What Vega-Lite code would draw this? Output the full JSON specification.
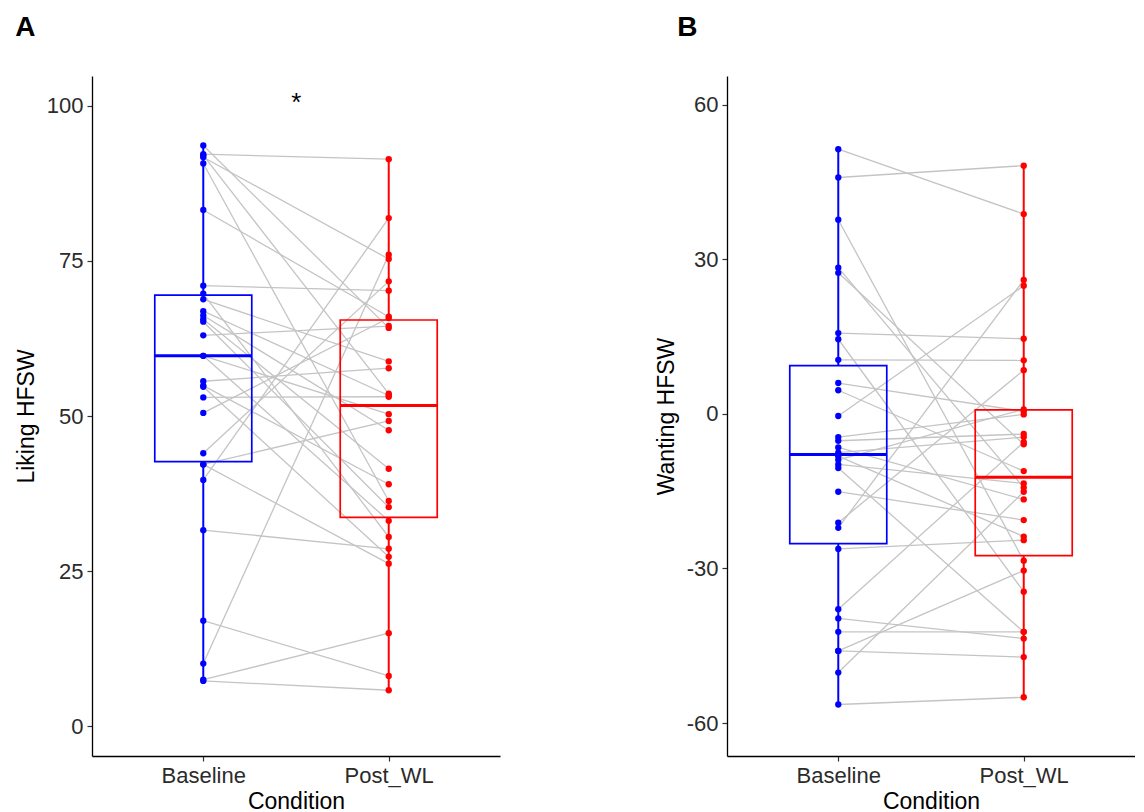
{
  "$schema": "https://vega.github.io/schema/vega-lite/v6.json",
  "padding": {"left": 15, "top": 14, "right": 0, "bottom": 0},
  "background": "white",
  "config": {
    "font": "Liberation Sans",
    "view": {"stroke": null},
    "axis": {"labelFontSize": 22, "labelColor": "#2b2b2b", "titleFontSize": 23, "titleFontWeight": "normal", "titleColor": "#000000", "domainColor": "#000000", "domainWidth": 1.3, "tickColor": "#333333", "tickSize": 5, "tickWidth": 1.2, "grid": false, "labelPadding": 4, "labelFont": "Liberation Sans", "titleFont": "Liberation Sans"},
    "axisX": {"titlePadding": 4, "labelAngle": 0},
    "axisY": {"titlePadding": 8, "labelExpr": "toString(datum.value)"}
  },
  "datasets": {
    "liking": [
      {"id": 1, "Condition": "Baseline", "value": 93.6}, {"id": 1, "Condition": "Post_WL", "value": 64.2},
      {"id": 2, "Condition": "Baseline", "value": 92.2}, {"id": 2, "Condition": "Post_WL", "value": 91.4},
      {"id": 3, "Condition": "Baseline", "value": 92.0}, {"id": 3, "Condition": "Post_WL", "value": 53.6},
      {"id": 4, "Condition": "Baseline", "value": 91.7}, {"id": 4, "Condition": "Post_WL", "value": 75.3},
      {"id": 5, "Condition": "Baseline", "value": 90.7}, {"id": 5, "Condition": "Post_WL", "value": 36.3},
      {"id": 6, "Condition": "Baseline", "value": 83.2}, {"id": 6, "Condition": "Post_WL", "value": 66.0},
      {"id": 7, "Condition": "Baseline", "value": 71.0}, {"id": 7, "Condition": "Post_WL", "value": 70.2},
      {"id": 8, "Condition": "Baseline", "value": 69.7}, {"id": 8, "Condition": "Post_WL", "value": 30.5},
      {"id": 9, "Condition": "Baseline", "value": 68.8}, {"id": 9, "Condition": "Post_WL", "value": 58.8},
      {"id": 10, "Condition": "Baseline", "value": 66.9}, {"id": 10, "Condition": "Post_WL", "value": 53.3},
      {"id": 11, "Condition": "Baseline", "value": 66.2}, {"id": 11, "Condition": "Post_WL", "value": 47.7},
      {"id": 12, "Condition": "Baseline", "value": 65.6}, {"id": 12, "Condition": "Post_WL", "value": 41.5},
      {"id": 13, "Condition": "Baseline", "value": 65.2}, {"id": 13, "Condition": "Post_WL", "value": 35.3},
      {"id": 14, "Condition": "Baseline", "value": 63.0}, {"id": 14, "Condition": "Post_WL", "value": 64.5},
      {"id": 15, "Condition": "Baseline", "value": 59.7}, {"id": 15, "Condition": "Post_WL", "value": 50.3},
      {"id": 16, "Condition": "Baseline", "value": 59.7}, {"id": 16, "Condition": "Post_WL", "value": 33.1},
      {"id": 17, "Condition": "Baseline", "value": 55.6}, {"id": 17, "Condition": "Post_WL", "value": 57.7},
      {"id": 18, "Condition": "Baseline", "value": 54.9}, {"id": 18, "Condition": "Post_WL", "value": 39.0},
      {"id": 19, "Condition": "Baseline", "value": 54.7}, {"id": 19, "Condition": "Post_WL", "value": 27.3},
      {"id": 20, "Condition": "Baseline", "value": 53.0}, {"id": 20, "Condition": "Post_WL", "value": 53.1},
      {"id": 21, "Condition": "Baseline", "value": 50.5}, {"id": 21, "Condition": "Post_WL", "value": 65.8},
      {"id": 22, "Condition": "Baseline", "value": 44.0}, {"id": 22, "Condition": "Post_WL", "value": 71.7},
      {"id": 23, "Condition": "Baseline", "value": 42.2}, {"id": 23, "Condition": "Post_WL", "value": 49.2},
      {"id": 24, "Condition": "Baseline", "value": 42.2}, {"id": 24, "Condition": "Post_WL", "value": 26.2},
      {"id": 25, "Condition": "Baseline", "value": 39.7}, {"id": 25, "Condition": "Post_WL", "value": 81.9},
      {"id": 26, "Condition": "Baseline", "value": 31.6}, {"id": 26, "Condition": "Post_WL", "value": 28.6},
      {"id": 27, "Condition": "Baseline", "value": 17.0}, {"id": 27, "Condition": "Post_WL", "value": 8.1},
      {"id": 28, "Condition": "Baseline", "value": 10.1}, {"id": 28, "Condition": "Post_WL", "value": 76.0},
      {"id": 29, "Condition": "Baseline", "value": 7.5}, {"id": 29, "Condition": "Post_WL", "value": 15.0},
      {"id": 30, "Condition": "Baseline", "value": 7.3}, {"id": 30, "Condition": "Post_WL", "value": 5.8}
    ],
    "wanting": [
      {"id": 1, "Condition": "Baseline", "value": 51.4}, {"id": 1, "Condition": "Post_WL", "value": 38.8},
      {"id": 2, "Condition": "Baseline", "value": 45.9}, {"id": 2, "Condition": "Post_WL", "value": 48.2},
      {"id": 3, "Condition": "Baseline", "value": 37.7}, {"id": 3, "Condition": "Post_WL", "value": -28.5},
      {"id": 4, "Condition": "Baseline", "value": 28.4}, {"id": 4, "Condition": "Post_WL", "value": -14.3},
      {"id": 5, "Condition": "Baseline", "value": 27.4}, {"id": 5, "Condition": "Post_WL", "value": -5.9},
      {"id": 6, "Condition": "Baseline", "value": 15.7}, {"id": 6, "Condition": "Post_WL", "value": 14.6},
      {"id": 7, "Condition": "Baseline", "value": 14.5}, {"id": 7, "Condition": "Post_WL", "value": -34.5},
      {"id": 8, "Condition": "Baseline", "value": 10.5}, {"id": 8, "Condition": "Post_WL", "value": 10.4},
      {"id": 9, "Condition": "Baseline", "value": 6.0}, {"id": 9, "Condition": "Post_WL", "value": 0.5},
      {"id": 10, "Condition": "Baseline", "value": 4.6}, {"id": 10, "Condition": "Post_WL", "value": -11.1},
      {"id": 11, "Condition": "Baseline", "value": -0.4}, {"id": 11, "Condition": "Post_WL", "value": 24.9},
      {"id": 12, "Condition": "Baseline", "value": -4.5}, {"id": 12, "Condition": "Post_WL", "value": -0.1},
      {"id": 13, "Condition": "Baseline", "value": -5.2}, {"id": 13, "Condition": "Post_WL", "value": -3.9},
      {"id": 14, "Condition": "Baseline", "value": -6.5}, {"id": 14, "Condition": "Post_WL", "value": -16.6},
      {"id": 15, "Condition": "Baseline", "value": -7.5}, {"id": 15, "Condition": "Post_WL", "value": -4.5},
      {"id": 16, "Condition": "Baseline", "value": -8.2}, {"id": 16, "Condition": "Post_WL", "value": -23.8},
      {"id": 17, "Condition": "Baseline", "value": -8.9}, {"id": 17, "Condition": "Post_WL", "value": 0.9},
      {"id": 18, "Condition": "Baseline", "value": -9.8}, {"id": 18, "Condition": "Post_WL", "value": -13.5},
      {"id": 19, "Condition": "Baseline", "value": -10.5}, {"id": 19, "Condition": "Post_WL", "value": -42.3},
      {"id": 20, "Condition": "Baseline", "value": -15.1}, {"id": 20, "Condition": "Post_WL", "value": -20.6},
      {"id": 21, "Condition": "Baseline", "value": -21.1}, {"id": 21, "Condition": "Post_WL", "value": 8.5},
      {"id": 22, "Condition": "Baseline", "value": -22.1}, {"id": 22, "Condition": "Post_WL", "value": 26.0},
      {"id": 23, "Condition": "Baseline", "value": -26.2}, {"id": 23, "Condition": "Post_WL", "value": -24.5},
      {"id": 24, "Condition": "Baseline", "value": -37.9}, {"id": 24, "Condition": "Post_WL", "value": -5.5},
      {"id": 25, "Condition": "Baseline", "value": -39.7}, {"id": 25, "Condition": "Post_WL", "value": -43.6},
      {"id": 26, "Condition": "Baseline", "value": -42.3}, {"id": 26, "Condition": "Post_WL", "value": -42.3},
      {"id": 27, "Condition": "Baseline", "value": -46.0}, {"id": 27, "Condition": "Post_WL", "value": -47.2},
      {"id": 28, "Condition": "Baseline", "value": -46.0}, {"id": 28, "Condition": "Post_WL", "value": -30.4},
      {"id": 29, "Condition": "Baseline", "value": -50.2}, {"id": 29, "Condition": "Post_WL", "value": -15.1},
      {"id": 30, "Condition": "Baseline", "value": -56.4}, {"id": 30, "Condition": "Post_WL", "value": -55.0}
    ]
  },
  "spacing": 155,
  "hconcat": [
    {
      "width": 408,
      "height": 680,
      "title": {"text": "A", "anchor": "start", "frame": "bounds", "fontSize": 28, "fontWeight": "bold", "offset": 34, "font": "Liberation Sans", "color": "#000000"},
      "data": {"name": "liking"},
      "encoding": {
        "x": {"field": "Condition", "type": "nominal", "sort": ["Baseline", "Post_WL"], "scale": {"type": "point", "padding": 0.6}, "axis": {"title": "Condition"}}
      },
      "layer": [
        {"mark": {"type": "line", "color": "#c4c4c4", "strokeWidth": 1.3},
         "encoding": {"y": {"field": "value", "type": "quantitative", "title": "Liking HFSW", "scale": {"domain": [-4.8, 104.8], "nice": false, "zero": false}, "axis": {"values": [0, 25, 50, 75, 100]}}, "detail": {"field": "id", "type": "nominal"}}},
        {"transform": [{"aggregate": [{"op": "min", "field": "value", "as": "lo"}, {"op": "max", "field": "value", "as": "hi"}, {"op": "q1", "field": "value", "as": "q1"}, {"op": "median", "field": "value", "as": "med"}, {"op": "q3", "field": "value", "as": "q3"}], "groupby": ["Condition"]}],
         "layer": [
           {"mark": {"type": "rule", "strokeWidth": 2}, "encoding": {"y": {"field": "lo", "type": "quantitative", "title": "Liking HFSW"}, "y2": {"field": "q1"}, "color": {"field": "Condition", "type": "nominal", "scale": {"domain": ["Baseline", "Post_WL"], "range": ["#0000FF", "#FF0000"]}, "legend": null}}},
           {"mark": {"type": "rule", "strokeWidth": 2}, "encoding": {"y": {"field": "q3", "type": "quantitative", "title": "Liking HFSW"}, "y2": {"field": "hi"}, "color": {"field": "Condition", "type": "nominal", "legend": null}}},
           {"mark": {"type": "bar", "filled": false, "size": 97, "strokeWidth": 1.7}, "encoding": {"y": {"field": "q1", "type": "quantitative", "title": "Liking HFSW"}, "y2": {"field": "q3"}, "color": {"field": "Condition", "type": "nominal", "legend": null}}},
           {"mark": {"type": "tick", "size": 97, "thickness": 3, "opacity": 1}, "encoding": {"y": {"field": "med", "type": "quantitative", "title": "Liking HFSW"}, "color": {"field": "Condition", "type": "nominal", "legend": null}}}
         ]},
        {"mark": {"type": "circle", "size": 40, "opacity": 1}, "encoding": {"y": {"field": "value", "type": "quantitative", "title": "Liking HFSW"}, "color": {"field": "Condition", "type": "nominal", "legend": null}}},
        {"data": {"values": [{"label": "*"}]}, "mark": {"type": "text", "fontSize": 26, "dx": 93, "font": "Liberation Sans", "color": "#000000"}, "encoding": {"x": {"datum": "Baseline"}, "y": {"datum": 100.5}, "text": {"field": "label"}}}
      ]
    },
    {
      "width": 408,
      "height": 680,
      "title": {"text": "B", "anchor": "start", "frame": "bounds", "fontSize": 28, "fontWeight": "bold", "offset": 34, "dx": 22, "font": "Liberation Sans", "color": "#000000"},
      "data": {"name": "wanting"},
      "encoding": {
        "x": {"field": "Condition", "type": "nominal", "sort": ["Baseline", "Post_WL"], "scale": {"type": "point", "padding": 0.6}, "axis": {"title": "Condition"}}
      },
      "layer": [
        {"mark": {"type": "line", "color": "#c4c4c4", "strokeWidth": 1.3},
         "encoding": {"y": {"field": "value", "type": "quantitative", "title": "Wanting HFSW", "scale": {"domain": [-66.4, 65.6], "nice": false, "zero": false}, "axis": {"values": [-60, -30, 0, 30, 60]}}, "detail": {"field": "id", "type": "nominal"}}},
        {"transform": [{"aggregate": [{"op": "min", "field": "value", "as": "lo"}, {"op": "max", "field": "value", "as": "hi"}, {"op": "q1", "field": "value", "as": "q1"}, {"op": "median", "field": "value", "as": "med"}, {"op": "q3", "field": "value", "as": "q3"}], "groupby": ["Condition"]}],
         "layer": [
           {"mark": {"type": "rule", "strokeWidth": 2}, "encoding": {"y": {"field": "lo", "type": "quantitative", "title": "Wanting HFSW"}, "y2": {"field": "q1"}, "color": {"field": "Condition", "type": "nominal", "legend": null}}},
           {"mark": {"type": "rule", "strokeWidth": 2}, "encoding": {"y": {"field": "q3", "type": "quantitative", "title": "Wanting HFSW"}, "y2": {"field": "hi"}, "color": {"field": "Condition", "type": "nominal", "legend": null}}},
           {"mark": {"type": "bar", "filled": false, "size": 97, "strokeWidth": 1.7}, "encoding": {"y": {"field": "q1", "type": "quantitative", "title": "Wanting HFSW"}, "y2": {"field": "q3"}, "color": {"field": "Condition", "type": "nominal", "legend": null}}},
           {"mark": {"type": "tick", "size": 97, "thickness": 3, "opacity": 1}, "encoding": {"y": {"field": "med", "type": "quantitative", "title": "Wanting HFSW"}, "color": {"field": "Condition", "type": "nominal", "legend": null}}}
         ]},
        {"mark": {"type": "circle", "size": 40, "opacity": 1}, "encoding": {"y": {"field": "value", "type": "quantitative", "title": "Wanting HFSW"}, "color": {"field": "Condition", "type": "nominal", "legend": null}}}
      ]
    }
  ]
}
